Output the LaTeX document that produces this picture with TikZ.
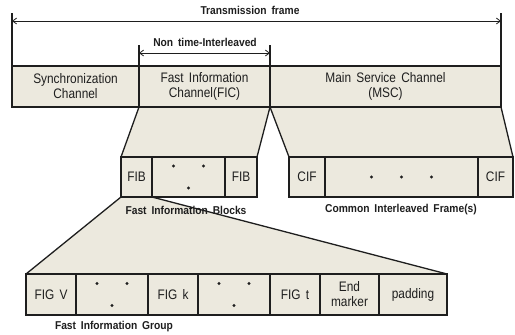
\documentclass[tikz,border=0pt]{standalone}
\usepackage{fontspec}
\setmainfont[WordSpace=1.7]{Liberation Sans}
\newfontfamily\boxfont[FakeStretch=0.86,WordSpace=1.6]{Liberation Sans}
\newfontfamily\capfont[FakeStretch=0.9,WordSpace=1.7]{Liberation Sans}
\usetikzlibrary{arrows.meta,calc,backgrounds}
\definecolor{paper}{RGB}{236,233,222}
\definecolor{ink}{RGB}{30,30,30}
\tikzset{
  cell/.style={draw=ink, fill=paper, line width=1.3pt, inner sep=0pt, outer sep=0pt,
    anchor=north west, align=center, font=\boxfont\fontsize{13.8}{15}\selectfont, text=ink},
  trap/.style={draw=ink, fill=paper, line width=1.3pt, line join=round},
  tick/.style={draw=ink, line width=1.3pt},
  span/.style={draw=ink, line width=0.8pt, {Straight Barb[length=4pt,width=6pt]}-{Straight Barb[length=4pt,width=6pt]}},
  caption/.style={font=\capfont\bfseries\fontsize{11.4}{12}\selectfont, text=ink, inner sep=0pt},
  dot/.style={fill=ink, circle, inner sep=0pt, minimum size=3.4pt}
}
\begin{document}
\begin{tikzpicture}[x=1pt,y=-1pt]
\useasboundingbox (0,0) rectangle (515,335);

% ---- top row: transmission frame ----
\node[cell, minimum width=127, minimum height=41] (sync) at (12,66) {Synchronization\\Channel};
\node[cell, minimum width=131, minimum height=41] (fic) at (139,66) {Fast Information\\Channel(FIC)};
\node[cell, minimum width=231, minimum height=41] (msc) at (270,66) {Main Service Channel\\(MSC)};

% ---- dimension lines ----
\coordinate (t1) at (12,13);
\coordinate (t2) at (501,13);
\coordinate (n1) at (139,45);
\coordinate (n2) at (270,45);
\draw[tick] (t1) -- (sync.north west);
\draw[tick] (t2) -- (msc.north east);
\draw[tick] (n1) -- (fic.north west);
\draw[tick] (n2) -- (fic.north east);
\coordinate (a1) at (12,21);
\coordinate (a2) at (501,21);
\coordinate (b1) at (139,53);
\coordinate (b2) at (270,53);
\draw[span] (a1) -- (a2);
\draw[span] (b1) -- (b2);
\node[caption] (tf) at (250,10) {Transmission frame};
\node[caption] (nti) at (205,42) {Non time-Interleaved};

% ---- fast information blocks ----
\node[cell, minimum width=31, minimum height=40] (fib1) at (121,157) {FIB};
\node[cell, minimum width=73, minimum height=40] (fibd) at (152,157) {};
\node[cell, minimum width=32, minimum height=40] (fib2) at (225,157) {FIB};

% ---- common interleaved frames ----
\node[cell, minimum width=36, minimum height=40] (cif1) at (289,157) {CIF};
\node[cell, minimum width=153, minimum height=40] (cifd) at (325,157) {};
\node[cell, minimum width=35, minimum height=40] (cif2) at (478,157) {CIF};

% ---- fast information groups ----
\node[cell, minimum width=50, minimum height=41] (figv) at (26,274) {FIG V};
\node[cell, minimum width=72, minimum height=41] (figd1) at (76,274) {};
\node[cell, minimum width=50, minimum height=41] (figk) at (148,274) {FIG k};
\node[cell, minimum width=72, minimum height=41] (figd2) at (198,274) {};
\node[cell, minimum width=50, minimum height=41] (figt) at (270,274) {FIG t};
\node[cell, minimum width=59, minimum height=41] (endm) at (320,274) {End\\marker};
\node[cell, minimum width=68, minimum height=41] (pad) at (379,274) {padding};

% ---- expansion trapezoids ----
\begin{scope}[on background layer]
\filldraw[trap] (fic.south west) -- (fic.south east) -- (fib2.north east) -- (fib1.north west) -- cycle;
\filldraw[trap] (msc.south west) -- (msc.south east) -- (cif2.north east) -- (cif1.north west) -- cycle;
\filldraw[trap] (fib1.south west) -- (fib1.south east) -- (pad.north east) -- (figv.north west) -- cycle;
\end{scope}

% ---- ellipsis dots ----
\foreach \b in {fibd,figd1,figd2}{
  \node[dot] at ($(\b.center)+(-15,-11)$) {};
  \node[dot] at ($(\b.center)+(15,-11)$) {};
  \node[dot] at ($(\b.center)+(0,11)$) {};
}
\foreach \dx in {-30,0,30}{
  \node[dot] at ($(cifd.center)+(\dx,0)$) {};
}

% ---- row captions ----
\node[caption] (fibl) at (186,210) {Fast Information Blocks};
\node[caption] (cifl) at (401,210) {Common Interleaved Frame(s)};
\node[caption] (figl) at (114,327) {Fast Information Group};
\end{tikzpicture}
\end{document}
